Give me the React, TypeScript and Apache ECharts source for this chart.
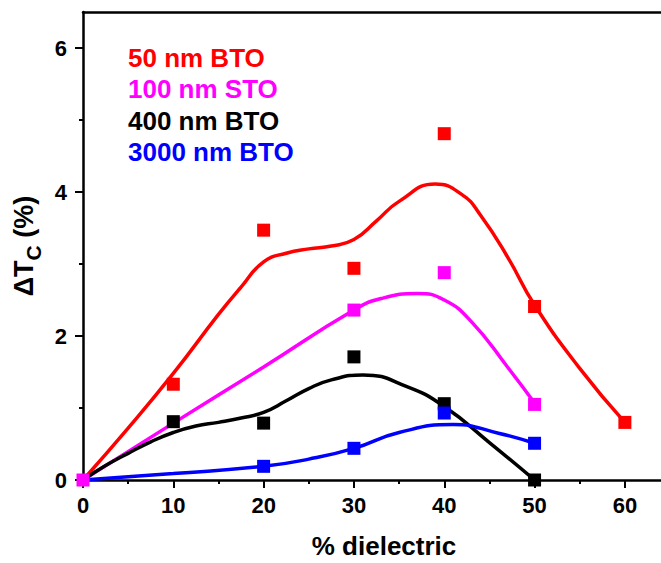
import React, { useEffect, useRef } from "react";
import * as echarts from "echarts";

const seriesNames = ["50 nm BTO", "100 nm STO", "400 nm BTO", "3000 nm BTO"];
const seriesColors = ["#ff0000", "#ff00ff", "#000000", "#0000ff"];

// measured points
const bto50X = [10, 20, 30, 40, 50, 60];
const bto50Y = [1.33, 3.47, 2.94, 4.81, 2.41, 0.8];
const sto100X = [0, 30, 40, 50];
const sto100Y = [0, 2.36, 2.88, 1.05];
const bto400X = [10, 20, 30, 40, 50];
const bto400Y = [0.81, 0.79, 1.71, 1.06, 0];
const bto3000X = [20, 30, 40, 50];
const bto3000Y = [0.19, 0.44, 0.93, 0.51];

// guide curves
const fit50X = [0, 5, 10, 15, 17.5, 20, 22.5, 25, 27.5, 30, 32.5, 35, 39, 42, 44, 47, 50, 55, 60];
const fit50Y = [0, 0.72, 1.48, 2.3, 2.68, 3.03, 3.15, 3.21, 3.25, 3.34, 3.6, 3.87, 4.11, 3.96, 3.68, 3.1, 2.43, 1.55, 0.8];
const fit100X = [0, 10, 20, 30, 33, 37, 40, 43, 47, 50];
const fit100Y = [0, 0.79, 1.57, 2.36, 2.52, 2.59, 2.5, 2.2, 1.57, 1.07];
const fit400X = [0, 2.5, 5, 7.5, 10, 12.5, 15, 17.5, 20, 22.5, 25, 27.5, 31, 36, 40, 45, 50];
const fit400Y = [0, 0.2, 0.37, 0.53, 0.66, 0.75, 0.8, 0.86, 0.94, 1.1, 1.27, 1.39, 1.46, 1.29, 1.02, 0.52, 0];
const fit3000X = [0, 10, 20, 25, 30, 35, 41, 46, 50];
const fit3000Y = [0, 0.09, 0.19, 0.29, 0.44, 0.66, 0.77, 0.65, 0.51];

const xMajorTicks = [0, 10, 20, 30, 40, 50, 60];
const xMinorTicks = [5, 15, 25, 35, 45, 55];
const yMajorTicks = [0, 2, 4, 6];
const yMinorTicks = [1, 3, 5];

const FONT = "'Liberation Sans', Arial, Helvetica, sans-serif";

const zip = (xs: number[], ys: number[]) => xs.map((x, i) => [x, ys[i]]);

export default function App() {
  const ref = useRef<HTMLDivElement>(null);
  useEffect(() => {
    if (!ref.current) return;
    const chart = echarts.init(ref.current, undefined, { renderer: "svg" });
    const points = [
      zip(bto50X, bto50Y),
      zip(sto100X, sto100Y),
      zip(bto400X, bto400Y),
      zip(bto3000X, bto3000Y),
    ];
    const fits = [
      zip(fit50X, fit50Y),
      zip(fit100X, fit100Y),
      zip(fit400X, fit400Y),
      zip(fit3000X, fit3000Y),
    ];
    const lineSeries = fits.map((d, i) => ({
      type: "line",
      name: seriesNames[i] + " fit",
      data: d,
      smooth: 0.5,
      symbol: "none",
      lineStyle: { color: seriesColors[i], width: 3.5 },
      itemStyle: { color: seriesColors[i] },
      z: 2,
    }));
    const scatterSeries = points.map((d, i) => ({
      type: "scatter",
      name: seriesNames[i],
      data: d,
      symbol: "rect",
      symbolSize: 13,
      itemStyle: { color: seriesColors[i], opacity: 1 },
      z: 3,
    }));
    const tickLabel = {
      fontSize: 22,
      fontWeight: "bold",
      color: "#000",
      fontFamily: FONT,
    };
    chart.setOption({
      animation: false,
      grid: { left: 83, right: 0, top: 12, bottom: 83, outerBoundsMode: "none" },
      legend: {
        orient: "vertical",
        left: 118,
        top: 37,
        itemGap: 0,
        itemWidth: 0,
        itemHeight: 10,
        icon: "none",
        selectedMode: false,
        textStyle: { fontSize: 26, fontWeight: "bold", fontFamily: FONT, lineHeight: 31.5 },
        data: seriesNames.map((n, i) => ({ name: n, textStyle: { color: seriesColors[i] } })),
      },
      xAxis: [
        {
          type: "value",
          min: 0,
          max: 64,
          position: "bottom",
          axisLine: { onZero: false, lineStyle: { color: "#000", width: 2.5 } },
          axisTick: { length: 8, customValues: xMajorTicks, lineStyle: { color: "#000", width: 2 } },
          axisLabel: { ...tickLabel, margin: 14, customValues: xMajorTicks },
          splitLine: { show: false },
          name: "% dielectric",
          nameLocation: "middle",
          nameGap: 53,
          nameTextStyle: { fontSize: 26, fontWeight: "bold", color: "#000", fontFamily: FONT, padding: [0, 0, 0, 24] },
        },
        {
          type: "value",
          min: 0,
          max: 64,
          position: "bottom",
          axisLine: { show: false, onZero: false },
          axisTick: { length: 4, customValues: xMinorTicks, lineStyle: { color: "#000", width: 2 } },
          axisLabel: { show: false },
          splitLine: { show: false },
        },
        {
          type: "value",
          min: 0,
          max: 64,
          position: "top",
          axisLine: { onZero: false, lineStyle: { color: "#000", width: 2.5 } },
          axisTick: { show: false },
          axisLabel: { show: false },
          splitLine: { show: false },
        },
      ],
      yAxis: [
        {
          type: "value",
          min: 0,
          max: 6.5,
          position: "left",
          axisLine: { onZero: false, lineStyle: { color: "#000", width: 2.5 } },
          axisTick: { length: 8, customValues: yMajorTicks, lineStyle: { color: "#000", width: 2 } },
          axisLabel: { ...tickLabel, margin: 16, customValues: yMajorTicks },
          splitLine: { show: false },
          name: "{a|ΔT}{b|C}{a| (%)}",
          nameLocation: "middle",
          nameRotate: 90,
          nameGap: 40,
          nameTextStyle: {
            color: "#000",
            rich: {
              a: { fontSize: 27, lineHeight: 27, fontWeight: "bold", fontFamily: FONT, color: "#000", verticalAlign: "top" },
              b: { fontSize: 21, lineHeight: 21, fontWeight: "bold", fontFamily: FONT, color: "#000", verticalAlign: "top", padding: [12, 0, 0, 0] },
            },
          },
        },
        {
          type: "value",
          min: 0,
          max: 6.5,
          position: "left",
          axisLine: { show: false, onZero: false },
          axisTick: { length: 4, customValues: yMinorTicks, lineStyle: { color: "#000", width: 2 } },
          axisLabel: { show: false },
          splitLine: { show: false },
        },
      ],
      series: [...lineSeries, ...scatterSeries],
    });
    return () => chart.dispose();
  }, []);
  return (
    <div
      ref={ref}
      style={{ position: "fixed", left: 0, top: 0, width: 661, height: 563, background: "#fff" }}
    />
  );
}
